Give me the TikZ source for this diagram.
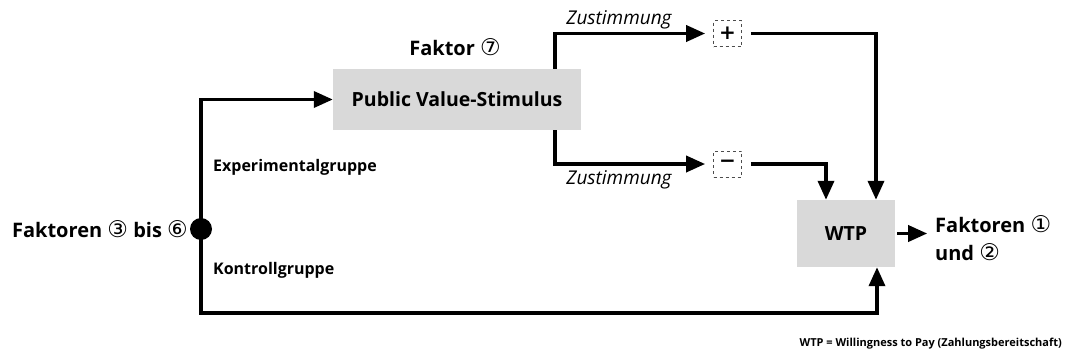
\documentclass[tikz,border=0pt]{standalone}
\usepackage{fontspec}
\setmainfont{Open Sans}
\newfontfamily\symfont[Scale=1.15]{DejaVu Sans}
\newfontfamily\signfont{DejaVu Sans}
\usetikzlibrary{arrows.meta}
\newcommand{\circnum}[1]{{\symfont\mdseries #1}}
\begin{document}
\begin{tikzpicture}[x=1pt,y=-1pt,
  flow/.style={line width=3.6pt,-{Triangle[length=19pt,width=16pt]}},
  graybox/.style={fill=black!15,draw=none,inner sep=0pt,font=\bfseries\fontsize{19.5}{22}\selectfont},
  signbox/.style={draw=black!70,dashed,line width=0.7pt,minimum width=28pt,minimum height=26pt,inner sep=0pt,font=\signfont\bfseries\fontsize{20}{20}\selectfont},
  lbl/.style={font=\bfseries\fontsize{20}{24}\selectfont,inner sep=0pt},
  grp/.style={font=\bfseries\fontsize{16}{19}\selectfont,inner sep=0pt},
  itl/.style={font=\itshape\fontsize{19}{22}\selectfont,inner sep=0pt}]
\useasboundingbox (0,0) rectangle (1069,362);

% main boxes
\node[graybox,minimum width=248pt,minimum height=61pt] (pvs) at (457,99.5) {Public Value-Stimulus};
\node[graybox,minimum width=98pt,minimum height=67pt] (wtp) at (846,233.5) {WTP};

% split point
\fill (201,229) circle (11pt);
\coordinate (split) at (201,229);

% dashed sign boxes
\node[signbox] (plus) at (727.5,33.5) {+};
\node[signbox] (minus) at (727.5,164) {−};

% labels
\node[lbl,anchor=east] (fak36) at (188,229) {Faktoren \circnum{③} bis \circnum{⑥}};
\node[lbl] (fak7) at (455,47) {Faktor \circnum{⑦}};
\node[grp,anchor=west] (exp) at (213,167) {Experimentalgruppe};
\node[grp,anchor=west] (kon) at (213,270) {Kontrollgruppe};
\node[lbl,anchor=west,align=left] (fak12) at (935,238) {Faktoren \circnum{①}\\[4pt]und \circnum{②}};
\node[itl] (zu1) at (619,20) {Zustimmung};
\node[itl] (zu2) at (619,180) {Zustimmung};
\node[font=\bfseries\fontsize{11}{13}\selectfont,anchor=east,inner sep=0pt] (note) at (1062,344) {WTP = Willingness to Pay (Zahlungsbereitschaft)};

% connectors
\draw[flow] (split) |- (pvs.west);
\draw[flow] (split) |- (877,313) -- (wtp.south -| 877,0);
\draw[flow] (pvs.north -| 555,0) |- ([xshift=-8pt]plus.west);
\draw[flow] (pvs.south -| 555,0) |- ([xshift=-8pt]minus.west);
\draw[flow] ([xshift=9pt]plus.east) -| (wtp.north -| 876,0);
\draw[flow] ([xshift=9pt]minus.east) -| (wtp.north -| 826,0);
\draw[flow] ([xshift=2pt]wtp.east) -- ++(30,0);
\end{tikzpicture}
\end{document}
